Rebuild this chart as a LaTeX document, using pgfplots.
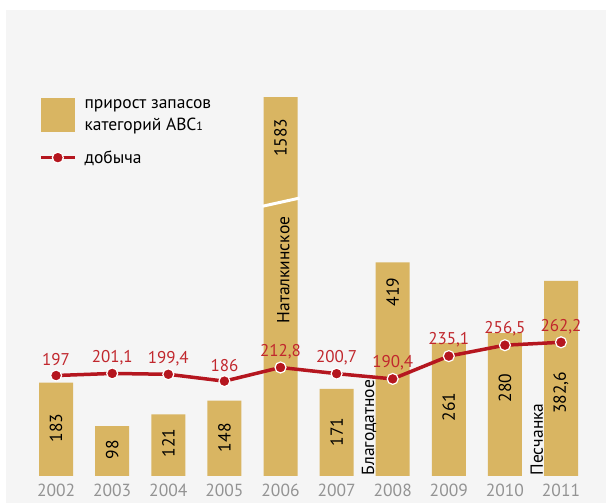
\documentclass[border=0pt]{standalone}
\usepackage{pgfplots}
\pgfplotsset{compat=1.18}
\usepackage{fontspec}
\setmainfont{PT Sans}
\definecolor{gold}{HTML}{D9B562}
\definecolor{dred}{HTML}{B5161F}
\definecolor{lred}{HTML}{C1272D}
\definecolor{tgray}{HTML}{939393}
\definecolor{bg}{HTML}{F5F5F5}
\newcommand{\bl}{\fontsize{17.5}{17.5}\selectfont}
\begin{document}
\begin{tikzpicture}
\fill[white] (0pt,-27pt) rectangle (606pt,476pt);
\fill[bg] (6pt,-27pt) rectangle (606pt,466pt);
\begin{axis}[
  scale only axis, width=605.9pt, height=378.9pt,
  xmin=-1, xmax=9.8, ymin=0, ymax=743,
  axis line style={draw=none}, major tick length=0pt,
  ytick=\empty, xtick={0,...,9},
  xticklabels={2002,2003,2004,2005,2006,2007,2008,2009,2010,2011},
  xticklabel style={font=\fontsize{17.5}{17.5}\selectfont, text=tgray, yshift=-5pt},
  /pgf/number format/assume math mode=true,
  legend style={draw=none, fill=none, at={(axis cs:-0.303,743)}, anchor=north west,
    inner sep=0pt, outer sep=0pt, font=\fontsize{17.5}{22}\selectfont,
    row sep=15pt, column sep=6pt, cells={anchor=west, align=left}},
]
\addplot[ybar, bar width=34pt, fill=gold, draw=none,
  legend image code/.code={\fill[gold] (0pt,-17pt) rectangle (34pt,17pt);}]
  coordinates {(0,183) (1,98) (2,121) (3,148) (4,1583) (5,171) (6,419) (7,261) (8,280) (9,382.6)};
\addlegendentry{прирост запасов\\категорий АВС{\fontsize{12}{12}\selectfont 1}}
\draw[white, line width=3pt] (axis cs:3.68,529) -- (axis cs:4.34,545);
\node[rotate=90, font=\bl] at (axis cs:0,94) {183};
\node[rotate=90, font=\bl] at (axis cs:1,51) {98};
\node[rotate=90, font=\bl] at (axis cs:2,65) {121};
\node[rotate=90, font=\bl] at (axis cs:3,75) {148};
\node[rotate=90, font=\bl] at (axis cs:4,663) {1583};
\node[rotate=90, font=\bl] at (axis cs:4.05,404) {Наталкинское};
\node[rotate=90, font=\bl] at (axis cs:5,86) {171};
\node[rotate=90, font=\bl] at (axis cs:6,361) {419};
\node[rotate=90, font=\bl] at (axis cs:7,135) {261};
\node[rotate=90, font=\bl] at (axis cs:8,173) {280};
\node[rotate=90, font=\bl] at (axis cs:9,163) {382,6};
\node[rotate=90, anchor=west, inner sep=0pt, font=\bl] at (axis cs:5.58,1) {Благодатное};
\node[rotate=90, anchor=west, inner sep=0pt, font=\bl] at (axis cs:8.57,1) {Песчанка};
\addplot[dred, line width=3.5pt, mark=*, mark size=5.5pt,
  mark options={fill=dred, draw=white, line width=1.2pt},
  nodes near coords, point meta=explicit symbolic,
  every node near coord/.style={font=\fontsize{17}{17}\selectfont, text=lred, anchor=center, yshift=16pt},
  legend image code/.code={\draw[dred, line width=3.5pt] (0pt,0pt) -- (34pt,0pt);
    \draw[fill=dred, draw=white, line width=1.2pt] (17pt,0pt) circle (5.5pt);}]
  table[meta=lab] {
x y lab
0 197 197
1 201.1 201,1
2 199.4 199,4
3 186 186
4 212.8 212,8
5 200.7 200,7
6 190.4 190,4
7 235.1 235,1
8 256.5 256,5
9 262.2 262,2
};
\addlegendentry{добыча}
\end{axis}
\pgfresetboundingbox
\path[use as bounding box] (0pt,-27pt) rectangle (606pt,476pt);
\end{tikzpicture}
\end{document}
